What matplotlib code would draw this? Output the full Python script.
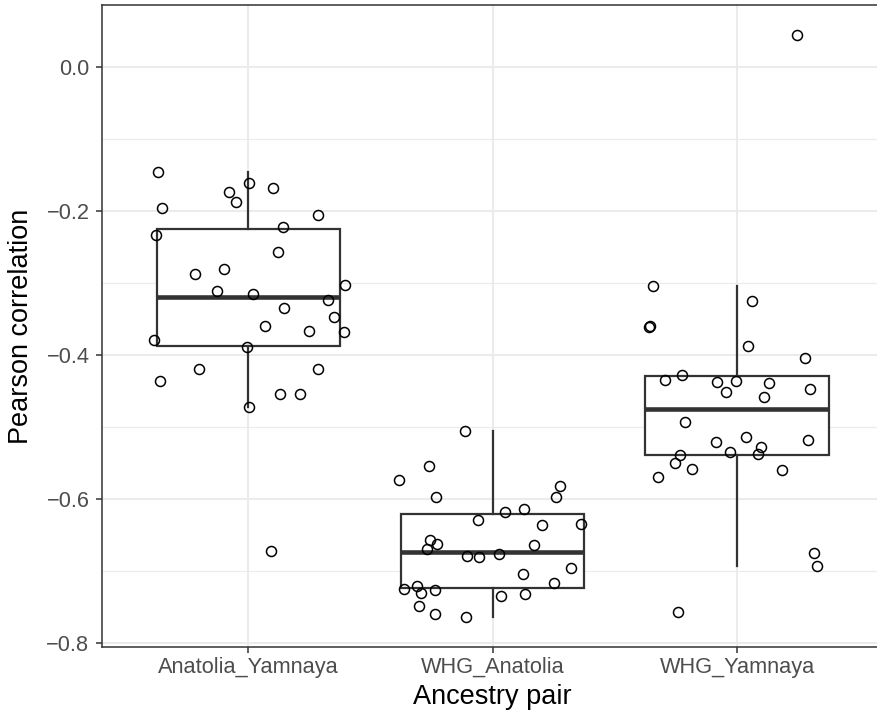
import matplotlib
matplotlib.use("Agg")
from matplotlib import pyplot as plt
import numpy as np

plt.rcParams['font.family'] = ['Liberation Sans', 'DejaVu Sans']

# Data
pairs = ['Anatolia_Yamnaya', 'WHG_Anatolia', 'WHG_Yamnaya']

anatolia_yamnaya = [-0.1454, -0.1616, -0.1685, -0.1731, -0.1870, -0.1963, -0.2056, -0.2218,
                    -0.2338, -0.2574, -0.2810, -0.2880, -0.3032, -0.3106, -0.3153, -0.3241,
                    -0.3343, -0.3468, -0.3597, -0.3671, -0.3685, -0.3796, -0.3894, -0.4194,
                    -0.4190, -0.4361, -0.4542, -0.4542, -0.4727, -0.6727]
whg_anatolia = [-0.5056, -0.5537, -0.5741, -0.5819, -0.5968, -0.5968, -0.6134, -0.6185,
                -0.6292, -0.6347, -0.6356, -0.6569, -0.6630, -0.6634, -0.6699, -0.6759,
                -0.6787, -0.6801, -0.6954, -0.7046, -0.7171, -0.7250, -0.7208, -0.7259,
                -0.7310, -0.7343, -0.7324, -0.7481, -0.7593, -0.7634]
whg_yamnaya = [-0.3046, -0.3245, -0.3597, -0.3616, -0.3880, -0.4046, -0.4282, -0.4347,
               -0.4370, -0.4361, -0.4389, -0.4519, -0.4468, -0.4579, -0.4926, -0.5139,
               -0.5204, -0.5185, -0.5273, -0.5347, -0.5380, -0.5394, -0.5495, -0.5579,
               -0.5593, -0.5699, -0.6750, -0.6926, -0.7565, 0.0444]

# horizontal jitter of each point (category units)
jit_anatolia_yamnaya = [-0.369, 0.004, 0.099, -0.081, -0.050, -0.354, 0.284, 0.143, -0.379, 0.122,
                        -0.101, -0.217, 0.394, -0.130, 0.018, 0.327, 0.145, 0.350, 0.068, 0.247,
                        0.390, -0.386, -0.004, -0.200, 0.284, -0.361, 0.130, 0.212, 0.003, 0.094]
jit_whg_anatolia = [-0.113, -0.261, -0.383, 0.276, -0.232, 0.258, 0.127, 0.052, -0.060, 0.360,
                    0.200, -0.257, -0.227, 0.170, -0.268, 0.027, -0.106, -0.056, 0.322, 0.123,
                    0.251, -0.364, -0.310, -0.236, -0.292, 0.034, 0.133, -0.300, -0.235, -0.110]
jit_whg_yamnaya = [-0.344, 0.060, -0.356, -0.361, 0.044, 0.279, -0.224, -0.293, -0.083, -0.005,
                   0.131, -0.045, 0.297, 0.109, -0.213, 0.036, -0.086, 0.291, 0.098, -0.029,
                   0.086, -0.233, -0.255, -0.185, 0.185, -0.323, 0.316, 0.326, -0.241, 0.244]

yticks = [-0.8, -0.6, -0.4, -0.2, 0.0]
ytick_labels = ['\u22120.8', '\u22120.6', '\u22120.4', '\u22120.2', '0.0']
yminor = [-0.7, -0.5, -0.3, -0.1]

values = [anatolia_yamnaya, whg_anatolia, whg_yamnaya]
jitters = [jit_anatolia_yamnaya, jit_whg_anatolia, jit_whg_yamnaya]

fig = plt.figure(figsize=(8.77, 7.15), dpi=100)
ax = fig.add_axes([101.7 / 877, 68 / 715, 782 / 877, 641.6 / 715])

dark = '#333333'
grid = '#EBEBEB'

# grid lines
for y in yticks:
    ax.axhline(y, color=grid, lw=1.5, zorder=0)
for y in yminor:
    ax.axhline(y, color=grid, lw=0.8, zorder=0)
for i in range(len(pairs)):
    ax.axvline(i + 1, color=grid, lw=1.5, zorder=0)

ax.boxplot(values, positions=[1, 2, 3], widths=0.75, showfliers=False,
           patch_artist=True,
           boxprops=dict(facecolor='white', edgecolor=dark, linewidth=1.6),
           medianprops=dict(color=dark, linewidth=3.3, solid_capstyle='butt'),
           whiskerprops=dict(color=dark, linewidth=1.6),
           capprops=dict(linewidth=0), zorder=2)

for i, (vals, jit) in enumerate(zip(values, jitters)):
    xs = i + 1 + np.array(jit)
    ax.plot(xs, vals, 'o', mfc='none', mec='black', ms=7.2, mew=1.1, zorder=3)

ax.set_xlim(0.4, 3.6)
ax.set_ylim(-0.8055, 0.0855)
ax.set_xticks([1, 2, 3])
ax.set_xticklabels(pairs)
ax.set_yticks(yticks)
ax.set_yticklabels(ytick_labels)

ax.tick_params(axis='both', colors=dark, length=4.3, width=1.1, labelsize=15.7,
               labelcolor='#4D4D4D')
ax.tick_params(axis='y', pad=4.5)
ax.tick_params(axis='x', pad=3)

for s in ax.spines.values():
    s.set_color(dark)
    s.set_linewidth(1.1)

ax.set_xlabel('Ancestry pair', fontsize=19.5, color='black')
ax.set_ylabel('Pearson correlation', fontsize=19.5, color='black')
ax.xaxis.set_label_coords(0.5, -0.058)
ax.yaxis.set_label_coords(-0.086, 0.5)

fig.savefig('out.png', dpi=100)
